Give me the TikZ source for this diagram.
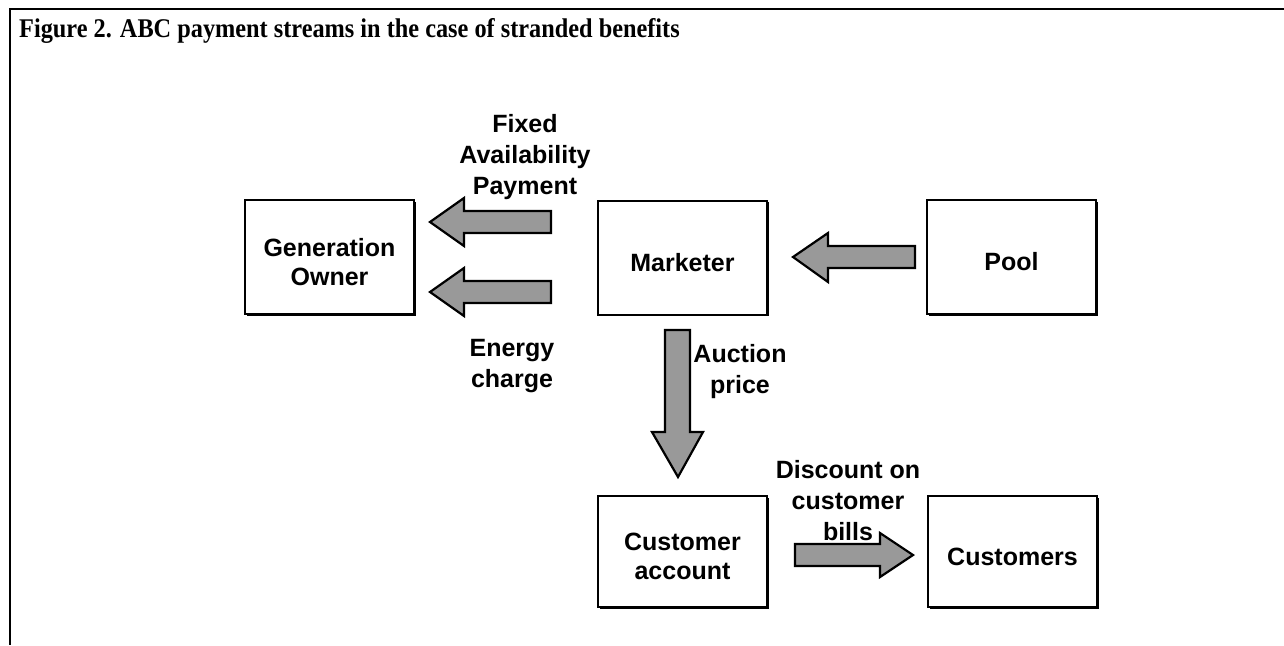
\documentclass[tikz,border=0pt]{standalone}
\usepackage{fontspec}
\setmainfont{Liberation Serif}
\newfontfamily\titlef[FakeStretch=0.9]{Liberation Serif}
\newfontfamily\arialf{Liberation Sans}
\usetikzlibrary{shadows}
\begin{document}
\begin{tikzpicture}[x=1pt,y=-1pt,
  boxnode/.style={draw=black, line width=2pt, fill=white, minimum width=169pt, minimum height=114pt,
    inner sep=0pt,
    drop shadow={shadow xshift=1.6pt, shadow yshift=-1.6pt, fill=black, opacity=1}},
  boxtext/.style={inner sep=0pt, align=center, font=\arialf\bfseries\fontsize{25}{29}\selectfont},
  lbl/.style={inner sep=0pt, align=center, font=\arialf\bfseries\fontsize{25}{31}\selectfont},
  barrow/.style={draw=black, line width=2.2pt, fill=black!40, line join=miter}]
\useasboundingbox (0,0) rectangle (1284,645);
% frame
\draw[line width=2.6pt] (9,9) -- (1284,9);
\draw[line width=1.4pt] (10,9) -- (10,645);
% title
\node[anchor=base west, inner sep=0pt, font=\titlef\bfseries\fontsize{27}{30}\selectfont] (title) at (19,37)
  {Figure 2. ABC payment streams in the case of stranded benefits};
% boxes
\node[boxnode] (gen) at (329.5,257) {};
\node[boxnode] (mkt) at (682.5,257.5) {};
\node[boxnode] (pool) at (1011.5,257) {};
\node[boxnode, minimum height=111pt] (cacc) at (682.5,551.5) {};
\node[boxnode, minimum height=111pt] (cust) at (1012.5,551.5) {};
\node[boxtext] (gentxt) at ([yshift=-5pt]gen.center) {Generation\\Owner};
\node[boxtext] (mkttxt) at ([yshift=-5pt]mkt.center) {Marketer};
\node[boxtext] (pooltxt) at ([yshift=-5pt]pool.center) {Pool};
\node[boxtext] (cacctxt) at ([yshift=-5pt]cacc.center) {Customer\\account};
\node[boxtext] (custtxt) at ([yshift=-5pt]cust.center) {Customers};
% block arrows
\draw[barrow] (430,222) -- (464,198) -- (464,211) -- (551,211) -- (551,233) -- (464,233) -- (464,246) -- cycle;
\draw[barrow] (430,292) -- (464,268) -- (464,281) -- (551,281) -- (551,303) -- (464,303) -- (464,316) -- cycle;
\draw[barrow] (793,257) -- (828,233) -- (828,246) -- (915,246) -- (915,268) -- (828,268) -- (828,282) -- cycle;
\draw[barrow] (678,477) -- (652,432) -- (665,432) -- (665,330) -- (690,330) -- (690,432) -- (703,432) -- cycle;
\draw[barrow] (913,555) -- (880,533) -- (880,544) -- (795,544) -- (795,566) -- (880,566) -- (880,577) -- cycle;
% labels
\node[lbl] (lfixed) at (525,157) {Fixed\\Availability\\Payment};
\node[lbl] (lenergy) at (512,366) {Energy\\charge};
\node[lbl] (lauction) at (740,372) {Auction\\price};
\node[lbl] (ldisc) at (848,501) {Discount on\\customer\\bills};
\end{tikzpicture}
\end{document}
